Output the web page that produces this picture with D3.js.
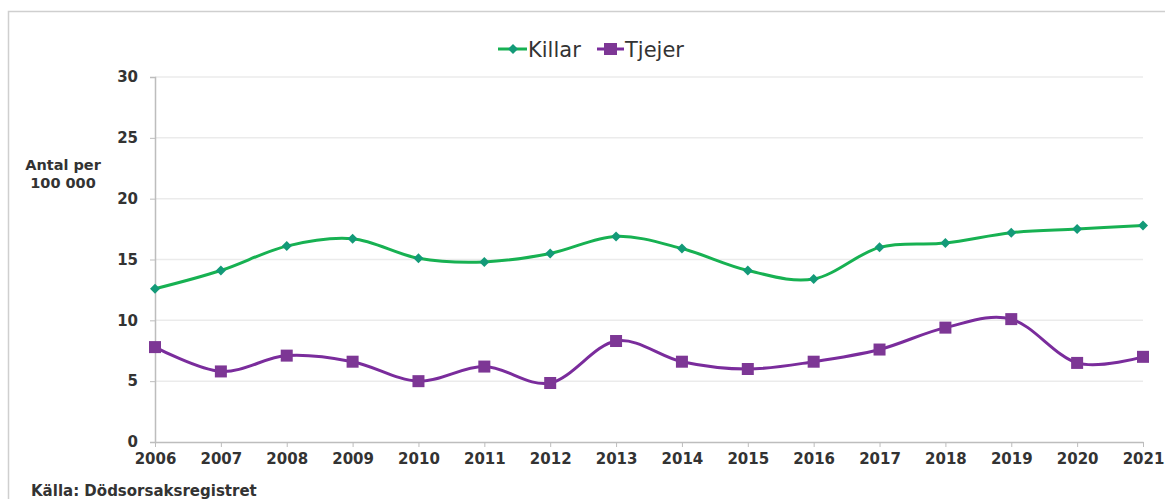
<!DOCTYPE html>
<meta charset="utf-8">
<title>Killar och tjejer</title>
<script src="https://d3js.org/d3.v7.min.js"></script>
<style>
  body { margin: 0; background: #fff; overflow: hidden; }
  text { font-family: "DejaVu Sans", Verdana, sans-serif; fill: #333; }
</style>
<body>
<div id="viz"></div>
<script>
  const years = ["2006","2007","2008","2009","2010","2011","2012","2013","2014","2015","2016","2017","2018","2019","2020","2021"];
  const killar = [12.6, 14.1, 16.1, 16.7, 15.1, 14.8, 15.5, 16.9, 15.9, 14.1, 13.4, 16.0, 16.35, 17.2, 17.5, 17.8];
  const tjejer = [7.8, 5.8, 7.1, 6.6, 5.0, 6.2, 4.85, 8.3, 6.6, 6.0, 6.6, 7.6, 9.4, 10.1, 6.5, 7.0];
  const yTicks = [0, 5, 10, 15, 20, 25, 30];

  const width = 1165, height = 499;
  const svg = d3.select("#viz").append("svg")
    .attr("width", width).attr("height", height);

  // frame
  svg.append("rect")
    .attr("x", 8.5).attr("y", 11.5)
    .attr("width", 1200).attr("height", 600)
    .attr("fill", "none").attr("stroke", "#cfcfcf").attr("stroke-width", 1.5);

  const x = d3.scalePoint().domain(years).range([155, 1143]);
  const y = d3.scaleLinear().domain([0, 30]).range([442, 77]);

  // gridlines
  svg.append("g").selectAll("line")
    .data(yTicks.filter(d => d > 0))
    .join("line")
    .attr("x1", 155).attr("x2", 1143)
    .attr("y1", d => y(d)).attr("y2", d => y(d))
    .attr("stroke", "#ebebeb").attr("stroke-width", 1.5);

  const yAxis = svg.append("g")
    .attr("transform", "translate(155,0)")
    .call(d3.axisLeft(y).tickValues(yTicks).tickSize(5).tickPadding(12));
  yAxis.select(".domain").attr("stroke", "#bdbdbd").attr("stroke-width", 1.5);
  yAxis.selectAll(".tick line").attr("stroke", "#bdbdbd");
  yAxis.selectAll("text").style("font-size", "15px").style("font-weight", "bold").attr("fill", "#3a3a3a");

  const xAxis = svg.append("g")
    .attr("transform", "translate(0,442)")
    .call(d3.axisBottom(x).tickSize(5).tickPadding(6).tickSizeOuter(0));
  xAxis.select(".domain").attr("stroke", "#bdbdbd").attr("stroke-width", 1.5);
  xAxis.selectAll(".tick line").attr("stroke", "#bdbdbd");
  xAxis.selectAll("text").style("font-size", "15px").style("font-weight", "bold").attr("fill", "#3a3a3a");

  // y axis title
  svg.append("text").attr("x", 63).attr("y", 170)
    .attr("text-anchor", "middle").style("font-size", "14.5px").style("font-weight", "bold")
    .attr("fill", "#3a3a3a").text("Antal per");
  svg.append("text").attr("x", 63).attr("y", 188)
    .attr("text-anchor", "middle").style("font-size", "14.5px").style("font-weight", "bold")
    .attr("fill", "#3a3a3a").text("100 000");

  const line = d3.line()
    .x((d, i) => x(years[i]))
    .y(d => y(d))
    .curve(d3.curveCardinal.tension(0));

  const greenLine = "#17b152", greenMark = "#139a78";
  const purpleLine = "#7a2c9c", purpleMark = "#7d3795";

  svg.append("path").datum(killar)
    .attr("d", line).attr("fill", "none")
    .attr("stroke", greenLine).attr("stroke-width", 3);
  svg.append("path").datum(tjejer)
    .attr("d", line).attr("fill", "none")
    .attr("stroke", purpleLine).attr("stroke-width", 3);

  const diamond = d3.symbol().type(d3.symbolSquare).size(50);
  svg.append("g").selectAll("path")
    .data(killar).join("path")
    .attr("transform", (d, i) => `translate(${x(years[i])},${y(d)}) rotate(45)`)
    .attr("d", diamond).attr("fill", greenMark);

  svg.append("g").selectAll("rect")
    .data(tjejer).join("rect")
    .attr("x", (d, i) => x(years[i]) - 6)
    .attr("y", d => y(d) - 6)
    .attr("width", 12).attr("height", 12)
    .attr("fill", purpleMark);

  // legend
  const lg = svg.append("g");
  lg.append("line").attr("x1", 498).attr("x2", 527).attr("y1", 49).attr("y2", 49)
    .attr("stroke", greenLine).attr("stroke-width", 3);
  lg.append("path").attr("transform", "translate(513,49) rotate(45)").attr("d", diamond).attr("fill", greenMark);
  lg.append("text").attr("x", 528).attr("y", 57).style("font-size", "21px").attr("fill", "#222").text("Killar");
  lg.append("line").attr("x1", 597).attr("x2", 624).attr("y1", 49).attr("y2", 49)
    .attr("stroke", purpleLine).attr("stroke-width", 3);
  lg.append("rect").attr("x", 604).attr("y", 43).attr("width", 13).attr("height", 12).attr("fill", purpleMark);
  lg.append("text").attr("x", 625).attr("y", 57).style("font-size", "21px").attr("fill", "#222").text("Tjejer");

  // source
  svg.append("text").attr("x", 31).attr("y", 496)
    .style("font-size", "15px").style("font-weight", "bold").attr("fill", "#2a2a2a")
    .text("Källa:  Dödsorsaksregistret");
</script>
</body>
